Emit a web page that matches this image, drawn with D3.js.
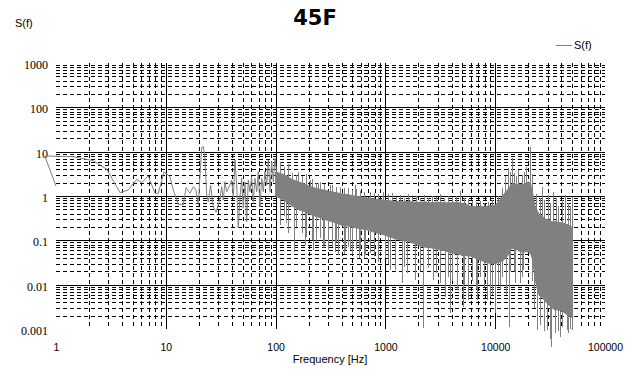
<!DOCTYPE html>
<html>
<head>
<meta charset="utf-8">
<script src="https://cdn.jsdelivr.net/npm/d3@7"></script>
<style>
  body { margin: 0; background: #fff; }
  svg { display: block; }
</style>
</head>
<body>
<svg id="chart" width="627" height="376"></svg>
<script>
/* 45F — spectral density S(f) vs frequency, log/log */

// tick labels
const xTicks = [1, 10, 100, 1000, 10000, 100000];
const xTickLabels = ['1', '10', '100', '1000', '10000', '100000'];
const yTicks = [0.001, 0.01, 0.1, 1, 10, 100, 1000];
const yTickLabels = ['0.001', '0.01', '0.1', '1', '10', '100', '1000'];

// low-frequency part: individual points (Hz, S)
const lowF = [1, 0.79, 1.44, 2.19, 2.9, 3.83, 4.55, 5.43, 6.03, 6.93, 7.97, 8.55, 9.63, 10.9, 11.7,
  13.0, 14.4, 15.3, 16.6, 17.8, 18.8, 19.8, 20.5, 21.2, 22.0, 22.7, 23.6, 24.4, 25.6, 27.1,
  28.7, 30.1, 31.2, 32.3, 33.4, 34.6, 35.9, 38.4, 39.8, 41.2, 42.7, 44.2, 45.7, 47.4, 49.1,
  50.8, 52.6, 54.5, 56.4, 58.4, 60.5, 62.6, 64.9, 67.3, 69.5, 72.1, 74.7, 77.3, 80.0, 83.0,
  85.9, 88.9, 92.1, 95.3, 98.8, 102];
const lowS = [1.68, 7.98, 7.7, 6.25, 4.0, 1.19, 1.37, 2.38, 2.0, 2.83, 1.15, 1.15, 3.53, 2.72, 1.37,
  0.65, 0.63, 1.54, 1.15, 1.62, 1.37, 0.63, 2.98, 12.3, 12.9, 7.2, 1.05, 0.74, 1.77, 0.57,
  0.43, 0.63, 0.90, 1.62, 0.81, 2.1, 1.25, 1.77, 2.3, 0.96, 6.5, 1.77, 0.19, 0.96, 2.5,
  0.53, 2.1, 0.26, 2.3, 1.25, 2.72, 0.74, 2.5, 1.25, 3.53, 0.57, 2.5, 1.25, 3.53, 1.77,
  6.5, 1.25, 5.94, 2.1, 7.1, 3.53];

// dense part: upper / lower edge of the solid core of the noise band
const bandF = [100, 120, 140, 160, 180, 200, 230, 260, 300, 350, 400, 450, 500, 600, 700, 800, 900, 1000,
  1200, 1400, 1600, 1800, 2000, 2300, 2600, 3000, 3500, 4000, 4500, 5000, 5500, 6000, 7000, 8000, 9000, 10000,
  11000, 12000, 13000, 14000, 15000, 16000, 17000, 18000, 19000, 20000, 21000, 22000, 23000, 24000, 25000,
  27000, 29000, 31000, 33000, 35000, 38000, 41000, 44000, 47000, 50000];
const bandHi = [3.5, 3.0, 2.4, 2.1, 1.9, 1.7, 1.5, 1.4, 1.3, 1.2, 1.12, 1.08, 1.02, 0.95, 0.9, 0.85, 0.82, 0.8,
  0.76, 0.74, 0.75, 0.73, 0.72, 0.73, 0.7, 0.72, 0.7, 0.7, 0.72, 0.68, 0.64, 0.58, 0.57, 0.58, 0.6, 0.62,
  0.8, 1.1, 1.4, 1.8, 1.9, 1.8, 1.85, 1.8, 1.9, 2.1, 1.9, 1.1, 0.6, 0.48, 0.4,
  0.34, 0.3, 0.28, 0.26, 0.27, 0.25, 0.25, 0.23, 0.22, 0.2];
const bandLo = [1.0, 0.8, 0.6, 0.5, 0.45, 0.4, 0.35, 0.32, 0.28, 0.25, 0.22, 0.21, 0.2, 0.18, 0.17, 0.15, 0.14, 0.13,
  0.11, 0.1, 0.095, 0.085, 0.078, 0.07, 0.068, 0.062, 0.058, 0.052, 0.05, 0.046, 0.045, 0.044, 0.037, 0.033, 0.03, 0.03,
  0.032, 0.036, 0.045, 0.065, 0.065, 0.06, 0.055, 0.055, 0.055, 0.055, 0.05, 0.036, 0.014, 0.0085, 0.006,
  0.005, 0.004, 0.0034, 0.003, 0.0027, 0.0027, 0.0025, 0.0022, 0.002, 0.0018];

// isolated dips below the band
const dipF = [110, 119, 124, 130, 147, 153, 173, 187, 189, 215, 220, 233, 254, 272, 276, 300, 327, 348, 355,
  372, 420, 428, 456, 476, 496, 540, 579, 587, 638, 652, 724, 787, 857, 861, 992,
  1056, 1100, 1223, 1410, 1477, 1563, 1860, 2066, 2210, 2444, 2730, 2890, 3144, 3490, 3716, 3880, 4042,
  4461, 5120, 5200, 5653, 6148, 6686, 6780, 7271, 7907, 8367, 8970, 9352, 9960,
  10610, 11060, 11540, 12550, 13440, 13650, 14840, 15140, 16820, 17540, 18030, 21640,
  22560, 23880, 25590, 27830, 29440, 31540, 32220, 35040, 37290, 38900, 40560, 44770, 46020, 47990, 49740];
const dipS = [0.22, 0.35, 0.24, 0.15, 0.055, 0.2, 0.144, 0.0785, 0.12, 0.1, 0.06, 0.09, 0.11, 0.066, 0.08, 0.0605, 0.07, 0.055, 0.09,
  0.047, 0.05, 0.06, 0.07, 0.06, 0.05, 0.065, 0.039, 0.06, 0.04, 0.0467, 0.051, 0.045, 0.05, 0.033, 0.039,
  0.03, 0.021, 0.0214, 0.0107, 0.025, 0.0183, 0.0127, 0.02, 0.00104, 0.024, 0.0127, 0.018, 0.0107, 0.0053, 0.015, 0.0023, 0.012,
  0.0076, 0.0032, 0.01, 0.0045, 0.012, 0.008, 0.0045, 0.015, 0.009, 0.0045, 0.0053, 0.006, 0.0023,
  0.01, 0.0076, 0.015, 0.006, 0.00113, 0.02, 0.02, 0.0109, 0.0107, 0.015, 0.021, 0.012,
  0.003, 0.00095, 0.0012, 0.0009, 0.00095, 0.0006, 0.0004, 0.0008, 0.0009, 0.00067, 0.0011, 0.00095, 0.0008, 0.001, 0.00095];

// isolated peaks above the band
const peakF = [110, 119, 130, 140, 153, 161, 174, 189, 206, 215, 233, 245, 254, 276, 313, 327, 355, 386, 420, 456,
  496, 529, 540, 587, 638, 724, 787, 857, 957,
  1056, 1141, 1249, 1359, 1477, 1606, 1746, 1900, 2066, 2247, 2444, 2657, 2890, 3142, 3418, 3716, 4042, 4395,
  4779, 5200, 5653, 6148, 6686, 7271, 7907, 8600, 9352,
  10610, 11540, 12270, 13210, 13650, 14140, 14840, 15470, 16130, 17540, 18290, 19080, 20750, 21640,
  23540, 25590, 26520, 27830, 30450, 31540, 33810, 35760, 37290, 40560, 43220, 46020, 47990, 49740];
const peakS = [6.0, 4.5, 5.2, 3.25, 3.0, 3.53, 2.8, 3.1, 2.3, 2.4, 2.0, 1.93, 2.1, 1.9, 1.77, 1.8, 1.6, 1.62, 1.5, 1.55,
  1.4, 1.77, 1.45, 1.3, 1.25, 1.25, 1.15, 1.1, 1.25,
  1.1, 1.15, 0.95, 1.05, 0.92, 1.1, 0.95, 1.0, 0.9, 1.05, 0.92, 1.0, 0.95, 1.1, 0.9, 1.0, 0.93, 1.02,
  1.32, 0.92, 0.85, 0.78, 0.72, 0.76, 0.7, 0.74, 0.8,
  1.0, 1.5, 2.83, 4.28, 3.5, 7.1, 3.3, 2.8, 3.86, 3.0, 3.4, 4.6, 12.9, 3.2,
  1.1, 0.9, 1.62, 0.8, 1.05, 0.7, 1.25, 0.9, 0.6, 0.8, 1.05, 0.7, 0.6, 0.97];

const LINE = '#808080';

const svg = d3.select('#chart');

const x = d3.scaleLog().domain([1, 100000]).range([56, 605]);
const y = d3.scaleLog().domain([0.001, 1000]).range([329, 63]);
const snap = v => Math.round(v) + 0.5;

// Grid
const grid = svg.append('g')
  .attr('stroke', '#000')
  .attr('stroke-width', 1)
  .attr('shape-rendering', 'crispEdges');

const minorY = [];
[0.001, 0.01, 0.1, 1, 10, 100].forEach(d => d3.range(2, 10).forEach(k => minorY.push(d * k)));
const minorX = [];
[1, 10, 100, 1000, 10000].forEach(d => d3.range(2, 10).forEach(k => minorX.push(d * k)));

grid.selectAll('.gy-minor').data(minorY).join('line')
  .attr('class', 'gy-minor')
  .attr('x1', x(1)).attr('x2', x(100000))
  .attr('y1', d => snap(y(d))).attr('y2', d => snap(y(d)))
  .attr('stroke-dasharray', '4,3');

grid.selectAll('.gx-minor').data(minorX).join('line')
  .attr('class', 'gx-minor')
  .attr('y1', y(1000)).attr('y2', y(0.001))
  .attr('x1', d => snap(x(d))).attr('x2', d => snap(x(d)))
  .attr('stroke-dasharray', '4,3');

grid.selectAll('.gy-major').data(yTicks.slice(1, -1)).join('line')
  .attr('class', 'gy-major')
  .attr('x1', x(1)).attr('x2', x(100000))
  .attr('y1', d => snap(y(d))).attr('y2', d => snap(y(d)));

grid.selectAll('.gx-major').data(xTicks.slice(1, -1)).join('line')
  .attr('class', 'gx-major')
  .attr('y1', y(1000)).attr('y2', y(0.001))
  .attr('x1', d => snap(x(d))).attr('x2', d => snap(x(d)));

// Axes (labels only)
const yAxis = svg.append('g')
  .attr('transform', `translate(${x(1)},0)`)
  .call(d3.axisLeft(y).tickValues(yTicks).tickFormat((d, i) => yTickLabels[i]).tickSize(0).tickPadding(8));
yAxis.select('.domain').remove();
yAxis.selectAll('text')
  .attr('font-family', '"Liberation Serif", serif')
  .attr('font-size', 12)
  .attr('fill', '#000')
  .attr('dy', '0.45em');

const xAxis = svg.append('g')
  .attr('transform', `translate(0,${y(0.001)})`)
  .call(d3.axisBottom(x).tickValues(xTicks).tickFormat((d, i) => xTickLabels[i]).tickSize(0).tickPadding(15));
xAxis.select('.domain').remove();
xAxis.selectAll('text')
  .attr('font-family', '"Liberation Sans", Arial, sans-serif')
  .attr('font-size', 10.5)
  .attr('fill', '#000');

// Series
const band = bandF.map((f, i) => ({ f, hi: bandHi[i], lo: bandLo[i] }));

svg.append('path')
  .datum(band)
  .attr('fill', LINE)
  .attr('stroke', LINE)
  .attr('stroke-width', 1)
  .attr('d', d3.area().x(d => x(d.f)).y0(d => y(d.lo)).y1(d => y(d.hi)));

const bisect = d3.bisector(d => d.f).center;
const spikes = dipF.map((f, i) => ({ f, s: dipS[i] }))
  .concat(peakF.map((f, i) => ({ f, s: peakS[i] })));

svg.append('g')
  .attr('stroke', LINE)
  .attr('stroke-width', 1)
  .attr('shape-rendering', 'crispEdges')
  .selectAll('line').data(spikes).join('line')
  .attr('x1', d => snap(x(d.f))).attr('x2', d => snap(x(d.f)))
  .attr('y1', d => y(d.s))
  .attr('y2', d => {
    const b = band[bisect(band, d.f)];
    return y(Math.sqrt(b.hi * b.lo));
  });

svg.append('path')
  .datum(lowF.map((f, i) => [f, lowS[i]]))
  .attr('fill', 'none')
  .attr('stroke', LINE)
  .attr('stroke-width', 1)
  .attr('d', d3.line().x(d => x(d[0])).y(d => y(d[1])));

// Titles
svg.append('text')
  .attr('x', 315).attr('y', 25)
  .attr('text-anchor', 'middle')
  .attr('font-family', '"DejaVu Sans", Verdana, sans-serif')
  .attr('font-weight', 'bold')
  .attr('font-size', 21)
  .text('45F');

svg.append('text')
  .attr('x', 15).attr('y', 27)
  .attr('font-family', '"Liberation Sans", Arial, sans-serif')
  .attr('font-size', 11)
  .text('S(f)');

svg.append('text')
  .attr('x', 330).attr('y', 363)
  .attr('text-anchor', 'middle')
  .attr('font-family', '"Liberation Sans", Arial, sans-serif')
  .attr('font-size', 11)
  .text('Frequency [Hz]');

// Legend
const legend = svg.append('g');
legend.append('line')
  .attr('x1', 556).attr('x2', 572)
  .attr('y1', 45.5).attr('y2', 45.5)
  .attr('stroke', LINE);
legend.append('text')
  .attr('x', 574).attr('y', 49)
  .attr('font-family', '"Liberation Sans", Arial, sans-serif')
  .attr('font-size', 11)
  .text('S(f)');
</script>
</body>
</html>
